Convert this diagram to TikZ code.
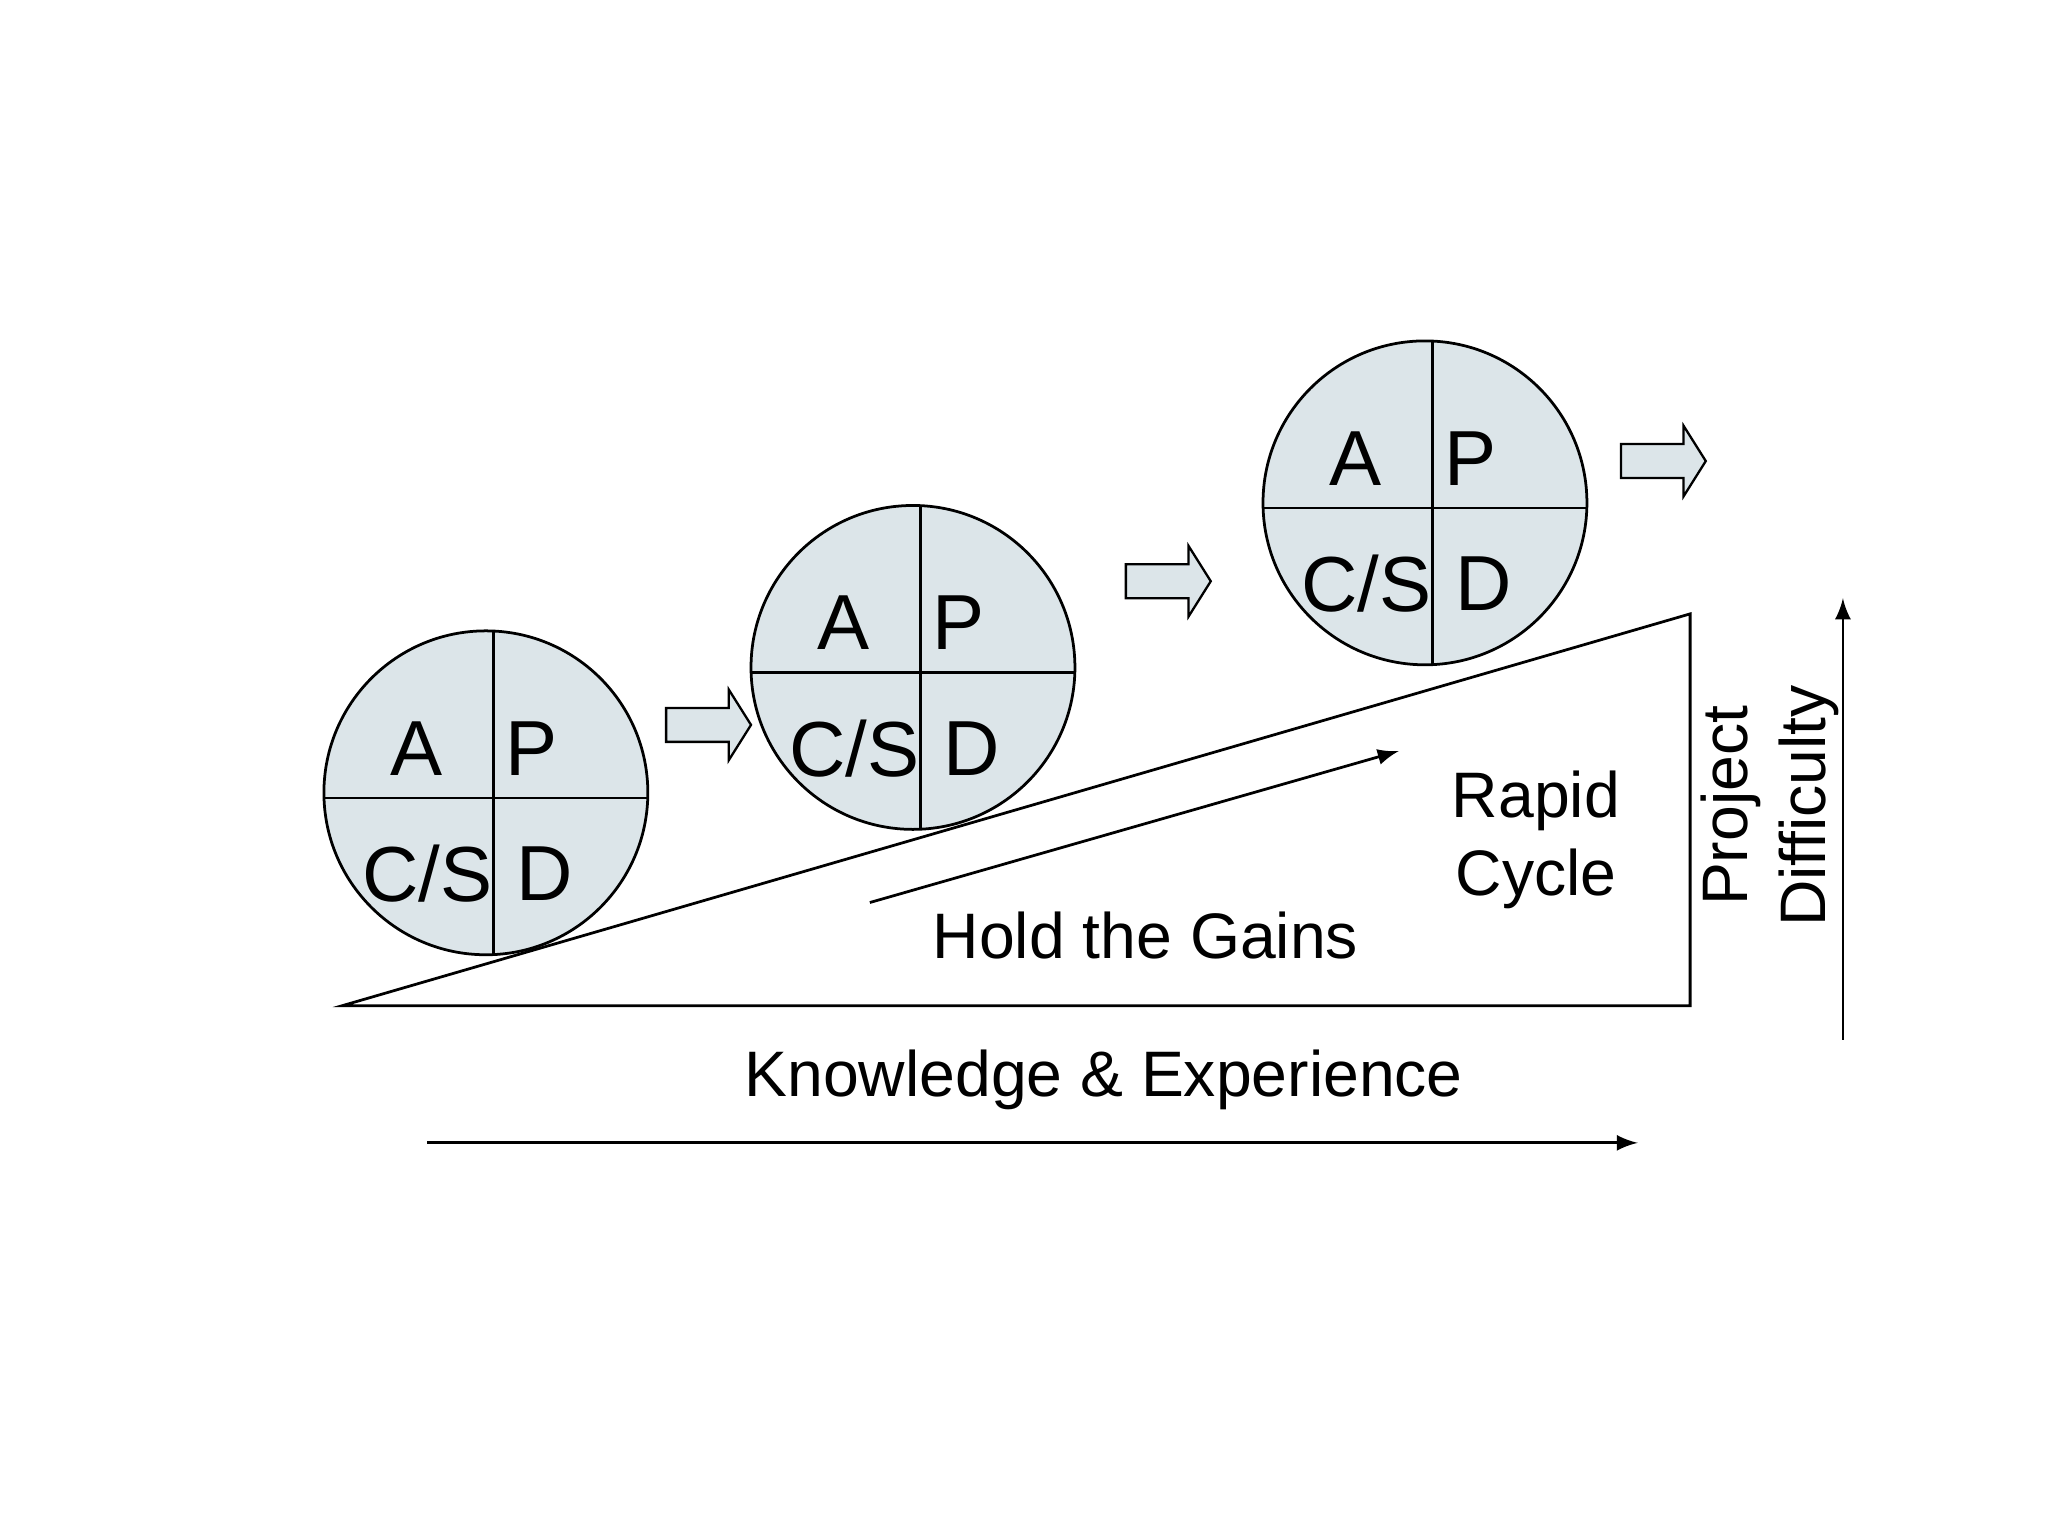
\documentclass[tikz,border=0pt]{standalone}
\usepackage{fontspec}
\setmainfont{Liberation Sans}
\begin{document}
\begin{tikzpicture}[x=0.01cm, y=-0.01cm, thin]
  \tikzset{
    cyc/.style={draw, fill=cyan!25!gray!25, line width=0.6pt},
    quad/.style={font=\fontsize{17}{20}\selectfont},
    lbl/.style={font=\fontsize{14}{17}\selectfont, align=center},
    blockarr/.style={draw, fill=cyan!25!gray!25, line width=0.5pt}
  }
  \useasboundingbox (0,0) rectangle (1568,1176);
  % Triangle
  \draw[line width=0.6pt] (262,770) coordinate (t1) -- (1294,470) coordinate (t2) -- (1294,770) coordinate (t3) -- cycle;
  % Cycles
  \foreach \n/\cx/\cy in {c1/372/607, c2/699/511, c3/1091/385} {
    \draw[cyc] (\cx,\cy) circle (124);
    \draw[line width=0.6pt] (\cx+6,\cy-124) -- (\cx+6,\cy+124);
    \draw[line width=0.6pt] (\cx-124,\cy+4) -- (\cx+124,\cy+4);
    \node[quad] (\n A) at (\cx-53,\cy-34) {A};
    \node[quad] (\n P) at (\cx+35,\cy-34) {P};
    \node[quad] (\n C) at (\cx-45,\cy+62) {C/S};
    \node[quad] (\n D) at (\cx+45,\cy+62) {D};
  }
  % Block arrows
  \foreach \x/\y in {510/555, 862/445, 1241/353}
    \draw[blockarr] (\x,\y-13) -- (\x+48,\y-13) -- (\x+48,\y-27) -- (\x+65,\y)
      -- (\x+48,\y+27) -- (\x+48,\y+13) -- (\x,\y+13) -- cycle;
  % Labels
  \coordinate (hg1) at (666,691);
  \coordinate (hg2) at (1071,575);
  \draw[-latex, line width=0.6pt] (hg1) -- (hg2);
  \node[lbl] (hold) at (877,716) {Hold the Gains};
  \node[lbl] (rapid) at (1176,643) {Rapid\\Cycle};
  \node[lbl] (know) at (845,827) {Knowledge \& Experience};
  \coordinate (ke1) at (327,875);
  \coordinate (ke2) at (1254,875);
  \draw[-latex, line width=0.6pt] (ke1) -- (ke2);
  \node[lbl, rotate=90] (proj) at (1355,617) {Project\\Difficulty};
  \coordinate (pd1) at (1411,796);
  \coordinate (pd2) at (1411,458);
  \draw[-latex, line width=0.6pt] (pd1) -- (pd2);
\end{tikzpicture}
\end{document}
